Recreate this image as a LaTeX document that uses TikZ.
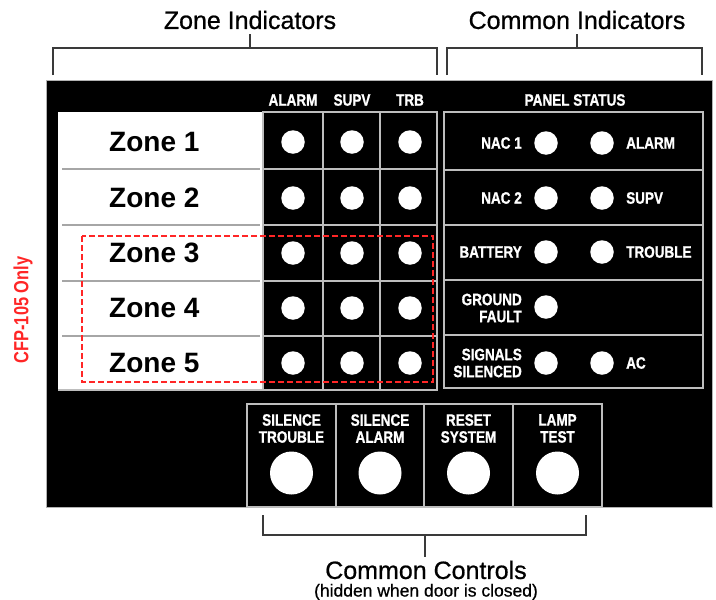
\documentclass[tikz,border=0pt]{standalone}
\usepackage{fontspec}
\setmainfont{Liberation Sans}
\newfontfamily\condfont[FakeStretch=0.82,FakeBold=0.9]{Liberation Sans}
\newfontfamily\capfont[FakeBold=0.7]{Liberation Sans}
\newfontfamily\redfont[FakeStretch=0.8]{Liberation Sans}
\definecolor{alertred}{HTML}{FF2626}
\definecolor{rule}{HTML}{BDBDBD}
\definecolor{brk}{HTML}{3A3A3A}
\begin{document}
\begin{tikzpicture}[x=1pt,y=-1pt,
  toplbl/.style={font=\capfont\fontsize{25}{27}\selectfont, inner sep=0},
  tag/.style={text=white, font=\condfont\bfseries\fontsize{16.5}{17}\selectfont, inner sep=0, align=center},
  tagr/.style={tag, anchor=east, align=right},
  tagl/.style={tag, anchor=west, align=left},
  zonelbl/.style={font=\bfseries\fontsize{28}{30}\selectfont, anchor=west, inner sep=0},
  led/.style={circle, fill=white, minimum size=23.5pt, inner sep=0},
  bigled/.style={circle, fill=white, minimum size=43pt, inner sep=0},
  bracket/.style={draw=brk, line width=1.4pt},
  grid/.style={draw=rule, line width=1.5pt},
  zline/.style={draw=gray!70, line width=1.2pt}]
\useasboundingbox (0,0) rectangle (716,600);
\fill[white] (0,0) rectangle (716,600);

% headings and brackets above the panel
\node[toplbl] (zoneind) at (250,20) {Zone Indicators};
\node[toplbl] (comind) at (577,20) {Common Indicators};
\coordinate (zstem) at (250,34);
\coordinate (cstem) at (577,34);
\draw[bracket] (53,75) |- (250,48) -| (437,75);
\draw[bracket] (250,48) -- (zstem);
\draw[bracket] (447,75) |- (577,48) -| (702,75);
\draw[bracket] (577,48) -- (cstem);

% panel body
\fill[black] (46,80) rectangle (712,507);
\draw[gray!60, line width=0.8pt] (46,80) rectangle (712,507);

% zone label strip
\fill[white] (58,112) rectangle (263,390);
\foreach \yy in {169,225,281,336} \draw[zline] (62,\yy) -- (260,\yy);
\draw[grid] (58,390) -- (437,390);

% zone LED grid
\draw[grid] (263,112) rectangle (437,390);
\foreach \xx in {323,380} \draw[grid] (\xx,112) -- (\xx,390);
\foreach \yy in {169,225,281,336} \draw[grid] (263,\yy) -- (437,\yy);

\node[tag] (hA) at (293,100) {ALARM};
\node[tag] (hS) at (352,100) {SUPV};
\node[tag] (hT) at (410,100) {TRB};

\foreach \n/\yy in {1/142,2/198,3/253,4/308,5/363}{
  \node[zonelbl] (z\n) at (109,\yy) {Zone \n};
  \node[led] (za\n) at (293,\yy) {};
  \node[led] (zs\n) at (352,\yy) {};
  \node[led] (zt\n) at (410,\yy) {};
}

% panel status block
\node[tag] (ps) at (575,100) {PANEL STATUS};
\draw[grid] (444,112) rectangle (703,388);
\foreach \yy in {170,225,280,335} \draw[grid] (444,\yy) -- (703,\yy);

\node[tagr] (nac1) at (522,143) {NAC 1};
\node[led] (lnac1) at (546,143) {};
\node[led] (lalarm) at (602,143) {};
\node[tagl] (alarm) at (626,143) {ALARM};

\node[tagr] (nac2) at (522,198) {NAC 2};
\node[led] (lnac2) at (546,198) {};
\node[led] (lsupv) at (602,198) {};
\node[tagl] (supv) at (626,198) {SUPV};

\node[tagr] (batt) at (522,252) {BATTERY};
\node[led] (lbatt) at (546,252) {};
\node[led] (ltrbl) at (602,252) {};
\node[tagl] (trbl) at (626,252) {TROUBLE};

\node[tagr] (gf) at (522,308) {GROUND\\FAULT};
\node[led] (lgf) at (546,307) {};

\node[tagr] (sil) at (522,363) {SIGNALS\\SILENCED};
\node[led] (lsil) at (546,363) {};
\node[led] (lac) at (602,363) {};
\node[tagl] (ac) at (626,363) {AC};

% common control buttons
\draw[grid] (247,404) rectangle (602,507);
\foreach \xx in {336,424,513} \draw[grid] (\xx,404) -- (\xx,507);
\foreach \nm/\xx/\txt in {st/291.5/{SILENCE\\TROUBLE}, sa/380/{SILENCE\\ALARM},
                          rs/468.5/{RESET\\SYSTEM}, lt/557.5/{LAMP\\TEST}}{
  \node[tag] (t\nm) at (\xx,428.5) {\txt};
  \node[bigled] (b\nm) at (\xx,473) {};
}

% optional zones marker
\draw[alertred, line width=2pt, dash pattern=on 6pt off 3pt] (82,236) rectangle (433,382);
\node[text=alertred, rotate=90, inner sep=0, font=\redfont\bfseries\fontsize{20.5}{22}\selectfont] (cfp) at (23,310) {CFP-105 Only};

% bracket and caption below the panel
\coordinate (bstem) at (425,557);
\draw[bracket] (263,515) |- (425,535) -| (586,515);
\draw[bracket] (425,535) -- (bstem);
\node[toplbl] (cc) at (426,570) {Common Controls};
\node[inner sep=0, font=\capfont\fontsize{17.5}{19}\selectfont] (hid) at (426,592) {(hidden when door is closed)};
\end{tikzpicture}
\end{document}
